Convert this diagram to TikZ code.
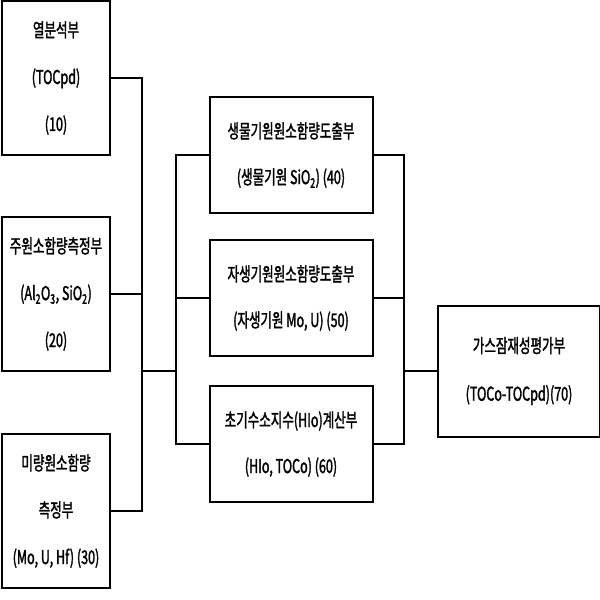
\documentclass[tikz,border=0pt]{standalone}
\usepackage{fontspec}
\setmainfont[FakeStretch=0.66,FakeBold=1.6]{Noto Sans CJK KR}
\usetikzlibrary{positioning,calc}

\begin{document}
\begin{tikzpicture}[x=1pt, y=-1pt,
every node/.style = {
	font = \fontsize{19}{47}\selectfont
},
unit/.style = {
	draw,
	line width = 2pt,
	align = center,
	inner sep = 0pt
},
leftunit/.style = {
	unit,
	minimum width = 108pt,
	minimum height = 154pt
},
midunit/.style = {
	unit,
	minimum width = 163pt,
	minimum height = 116pt
},
wire/.style = {
	line width = 2pt
}
]
\useasboundingbox (0,0) rectangle (600,600);

% measuring units
\node (anal) [leftunit] at (56,78) {열분석부\\(TOCpd)\\(10)};
\node (major) [leftunit] at (56,294) {주원소함량측정부\\(Al\textsubscript{2}O\textsubscript{3}, SiO\textsubscript{2})\\(20)};
\node (minor) [leftunit] at (56,511) {미량원소함량\\측정부\\(Mo, U, Hf) (30)};

% derived units
\node (bio) [midunit, font=\fontsize{19}{46}\selectfont] at (291,155) {생물기원원소함량도출부\\(생물기원 SiO\textsubscript{2}) (40)};
\node (auth) [midunit, font=\fontsize{19}{46}\selectfont] at (291,298) {자생기원원소함량도출부\\(자생기원 Mo, U) (50)};
\node (hio) [midunit, font=\fontsize{19}{46}\selectfont] at (291,444) {초기수소지수(HIo)계산부\\(HIo, TOCo) (60)};

% evaluation
\node (eval) [unit, minimum width=162pt, minimum height=131pt, font=\fontsize{19}{48}\selectfont] at (519,371) {가스잠재성평가부\\(TOCo-TOCpd)(70)};

\coordinate (jl) at (142,371);
\coordinate (jm) at (176,371);
\coordinate (jr) at (404,371);

\draw [wire] (anal.east) -| (jl);
\draw [wire] (minor.east) -| (jl);
\draw [wire] (major.east) -- (major.east -| jl);
\draw [wire] (jl) -- (jm);
\draw [wire] (bio.west) -| (jm);
\draw [wire] (hio.west) -| (jm);
\draw [wire] (auth.west) -- (auth.west -| jm);
\draw [wire] (bio.east) -| (jr);
\draw [wire] (hio.east) -| (jr);
\draw [wire] (auth.east) -- (auth.east -| jr);
\draw [wire] (jr) -- (eval.west);

\end{tikzpicture}
\end{document}
